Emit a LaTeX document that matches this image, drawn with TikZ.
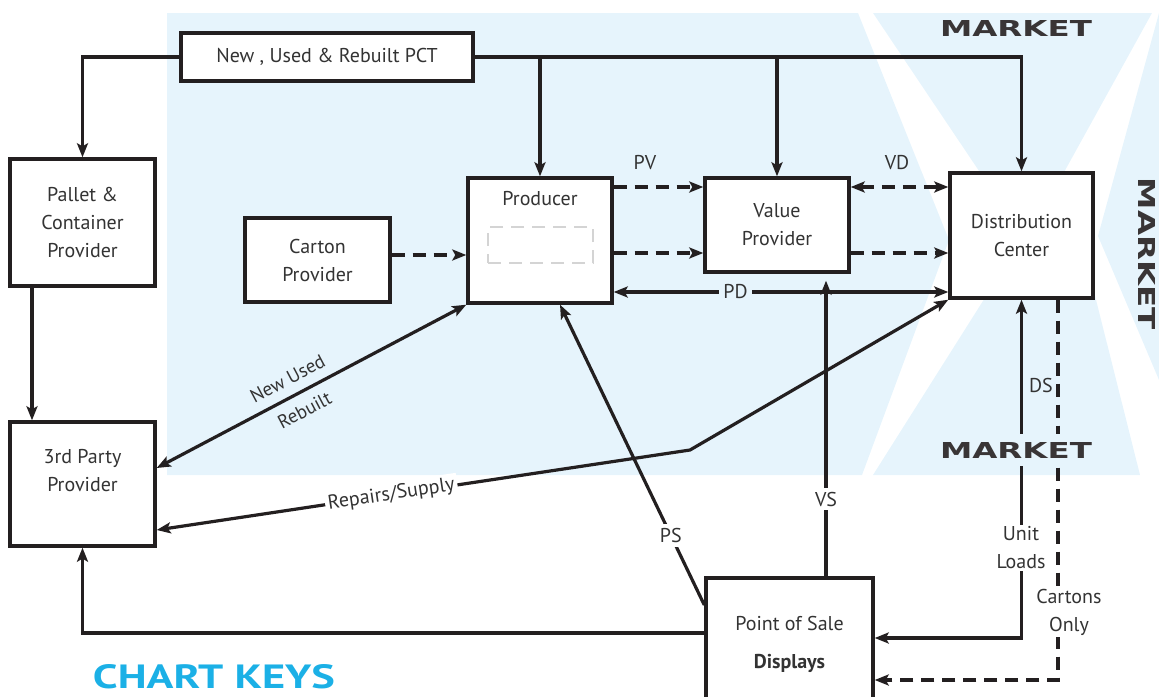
\documentclass[tikz,border=0pt]{standalone}
\usepackage{graphicx}
\usepackage{fontspec}
\setmainfont{PT Sans}
\newfontfamily\mkfont{DejaVu Sans}
\usetikzlibrary{arrows.meta,calc}
\definecolor{bgblue}{HTML}{E6F4FC}
\definecolor{ink}{HTML}{231F20}
\definecolor{txt}{HTML}{333333}
\definecolor{keycyan}{HTML}{1BB0E6}
\definecolor{dashgray}{HTML}{D4D4D4}
\begin{document}
\begin{tikzpicture}[x=1pt,y=-1pt,
  font=\fontsize{20}{28}\selectfont,
  box/.style={draw=ink, line width=3.4pt, fill=white, inner sep=0pt, text=txt, align=center},
  lbl/.style={text=txt, align=center},
  conn/.style={draw=ink, line width=3.2pt},
  arr/.style={-{Stealth[length=14pt,width=11pt,inset=3pt]}},
  darr/.style={{Stealth[length=14pt,width=11pt,inset=3pt]}-{Stealth[length=14pt,width=11pt,inset=3pt]}},
  dsh/.style={dash pattern=on 13pt off 8pt},
  mk/.style={text=ink!90, inner sep=0pt}
]
\useasboundingbox (0,0) rectangle (1159,696);
% background
\fill[bgblue] (167,13) -- (858,13) -- (949,240) -- (862,475) -- (167,475) -- cycle;
\fill[bgblue] (873,13) -- (1152,13) -- (1026,241) -- cycle;
\fill[bgblue] (1159,13) -- (1098,236) -- (1159,380) -- cycle;
\fill[bgblue] (1024,236) -- (1080,236) -- (1140,475) -- (873,475) -- cycle;

% helper coordinates
\coordinate (yA) at (0,187);
\coordinate (yB) at (0,253);
\coordinate (yC) at (0,255);
\coordinate (yPD) at (0,292);
\coordinate (yNU) at (0,468);
\coordinate (yRS) at (0,530);
\coordinate (yPS) at (0,605);
\coordinate (yBL) at (0,633);
\coordinate (yUL) at (0,638);
\coordinate (yCO) at (0,680);
\coordinate (xPal) at (32,0);
\coordinate (xPS) at (560,0);
\coordinate (xVS) at (826,0);
\coordinate (xCO) at (1058,0);
\coordinate (rsbend) at (690,450);

% boxes
\node[box, minimum width=292pt, minimum height=48pt] (pct) at (327,57) {New , Used \& Rebuilt PCT};
\node[box, minimum width=145pt, minimum height=127pt] (pallet) at (82.5,222.5) {Pallet \&\\Container\\Provider};
\node[box, minimum width=145pt, minimum height=124pt] (third) at (82.5,484) {};
\node[lbl] (thirdtxt) at (82.5,471) {3rd Party\\Provider};
\node[box, minimum width=145pt, minimum height=84pt] (carton) at (317.5,260) {Carton\\Provider};
\node[box, minimum width=144pt, minimum height=125pt] (prod) at (540,240.5) {};
\node[lbl] (prodtxt) at (540,199) {Producer};
\node[draw=dashgray, line width=2.6pt, dash pattern=on 13pt off 8pt, minimum width=105pt, minimum height=36pt, inner sep=0pt] (prodin) at (540.5,245) {};
\node[box, minimum width=144pt, minimum height=94pt] (vp) at (777,225) {Value\\Provider};
\node[box, minimum width=143pt, minimum height=125pt] (dc) at (1021.5,235.5) {Distribution\\Center};
\node[box, minimum width=167pt, minimum height=132pt] (pos) at (789.5,644) {};
\node[lbl] (postxt) at (789.5,644) {Point of Sale\\[10pt]\textbf{Displays}};

% connectors from PCT
\draw[conn,arr] (pct.west) -| (pallet.north);
\draw[conn,arr] (pct.east) -| (dc.north);
\draw[conn,arr] (pct.east -| prod.north) -- (prod.north);
\draw[conn,arr] (pct.east -| vp.north) -- (vp.north);
\draw[conn,arr] (pallet.south -| xPal) -- (third.north -| xPal);

% dashed flows
\draw[conn,arr,dsh] (carton.east |- yC) -- (prod.west |- yC);
\draw[conn,arr,dsh] (prod.east |- yA) -- (vp.west |- yA);
\draw[conn,arr,dsh] (prod.east |- yB) -- (vp.west |- yB);
\draw[conn,darr,dsh] (vp.east |- yA) -- (dc.west |- yA);
\draw[conn,arr,dsh] (vp.east |- yB) -- (dc.west |- yB);
\node[lbl] (pv) at (645,163) {PV};
\node[lbl] (vd) at (897,163) {VD};

% PD
\draw[conn,darr] (prod.east |- yPD) -- node[pos=0.364, fill=bgblue, text=txt, inner sep=4pt] (pd) {PD} (dc.west |- yPD);

% VS
\draw[conn,arr,shorten >=7pt] (pos.north -| xVS) -- node[pos=0.255, fill=white, text=txt, inner sep=4pt] (vs) {VS} (vp.south -| xVS);

% PS
\draw[conn,arr] (pos.west |- yPS) -- node[pos=0.232, fill=white, text=txt, inner sep=4pt] (ps) {PS} (prod.south -| xPS);

% New Used Rebuilt
\draw[conn,darr] (third.east |- yNU) -- node[pos=0.45, sloped, text=txt, align=center, font=\fontsize{19}{36}\selectfont] (nur) {New Used\\Rebuilt} (prod.south west);

% Repairs/Supply
\draw[conn,darr] (third.east |- yRS) -- node[pos=0.44, sloped, fill=white, text=txt, inner sep=3pt] (rs) {Repairs/Supply} (rsbend) -- (dc.south west);

% Unit loads / DS
\draw[conn,darr] (pos.east |- yUL) -| (dc.south);
\node[lbl, fill=white, inner sep=2pt] (ul) at (1021,548) {Unit\\Loads};
\node[lbl] (ds) at (1041,385) {DS};

% Cartons only
\draw[conn,arr,dsh] (dc.south -| xCO) |- (pos.east |- yCO);
\node[lbl, fill=white, inner sep=2pt] (co) at (1069,612) {Cartons\\Only};

% bottom return to 3rd party
\draw[conn,arr] (pos.west |- yBL) -| (third.south);

% MARKET labels
\node[mk] (mk1) at (1016,28) {\mkfont\bfseries\resizebox{152pt}{16pt}{MARKET}};
\node[mk, rotate=-90] (mk2) at (1147,254) {\mkfont\bfseries\resizebox{152pt}{17pt}{MARKET}};
\node[mk, fill=bgblue, inner xsep=4pt, inner ysep=8pt] (mk3) at (1016,450) {\mkfont\bfseries\resizebox{152pt}{16pt}{MARKET}};

% chart keys
\node[text=keycyan, inner sep=0pt] (ck) at (214,677) {\bfseries\resizebox{242pt}{24pt}{CHART KEYS}};
\end{tikzpicture}
\end{document}
